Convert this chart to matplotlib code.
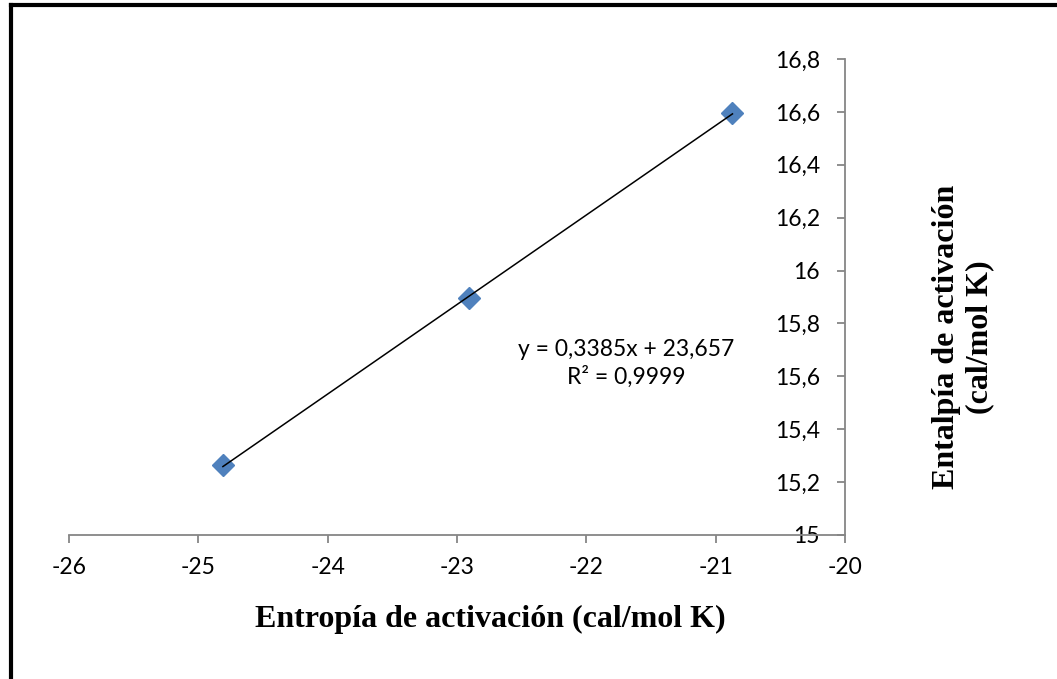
import matplotlib.pyplot as plt
from matplotlib.lines import Line2D
from matplotlib.ticker import FuncFormatter
import numpy as np

# activation entropy vs enthalpy (cal/mol K)
entropia = [-24.81, -22.91, -20.87]
entalpia = [15.265, 15.895, 16.595]
pendiente, ordenada = 0.3385, 23.657
r2 = 0.9999

x_ticks = [-26, -25, -24, -23, -22, -21, -20]
y_ticks = [15, 15.2, 15.4, 15.6, 15.8, 16, 16.2, 16.4, 16.6, 16.8]


def coma(v, pos=None):
    return f"{v:g}".replace('.', ',')


fig = plt.figure(figsize=(10.57, 6.79), dpi=100)
ax = fig.add_axes([0.0653, 0.2121, 0.7341, 0.701])

gris = '#868686'
ax.plot(entropia, entalpia, linestyle='none', marker='D', markersize=11,
        color='#4F81BD', zorder=3)
xs = np.array([min(entropia), max(entropia)])
ax.plot(xs, pendiente * xs + ordenada, color='black', linewidth=1.1, zorder=4)

ax.set_xlim(-26, -20)
ax.set_ylim(15, 16.8)
ax.set_xticks(x_ticks)
ax.set_yticks(y_ticks)
ax.xaxis.set_major_formatter(FuncFormatter(coma))
ax.yaxis.set_major_formatter(FuncFormatter(coma))

# vertical axis crosses at x = -20
ax.spines['left'].set_position(('data', -20))
ax.spines['right'].set_visible(False)
ax.spines['top'].set_visible(False)
for s in ('left', 'bottom'):
    ax.spines[s].set_color(gris)
    ax.spines[s].set_linewidth(1.3)
ax.tick_params(axis='both', colors=gris, length=6, width=1.3, direction='out',
               labelcolor='black', labelsize=16.5)
ax.tick_params(axis='y', pad=12)
ax.tick_params(axis='x', pad=10)
for lab in ax.get_xticklabels() + ax.get_yticklabels():
    lab.set_family('Lato')

ax.text(-21.69, 15.65, f"y = {coma(pendiente)}x + {coma(ordenada)}\nR² = {coma(r2)}",
        ha='center', va='center', fontsize=16.5, family='Lato', linespacing=1.3)

fig.text(0.4636, 0.087, "Entropía de activación (cal/mol K)", ha='center', va='center',
         fontsize=23, fontweight='bold', family='Liberation Serif')
fig.text(0.911, 0.504, "Entalpía de activación\n(cal/mol K)", ha='center', va='center',
         rotation=90, fontsize=23, fontweight='bold', family='Liberation Serif',
         linespacing=1.2)

# frame lines along the left and top edges
fig.add_artist(Line2D([0.0104, 0.0104], [0, 0.993], transform=fig.transFigure,
                      color='black', linewidth=3))
fig.add_artist(Line2D([0.0104, 1.0], [0.993, 0.993], transform=fig.transFigure,
                      color='black', linewidth=3))

fig.savefig('out.png', dpi=100)
